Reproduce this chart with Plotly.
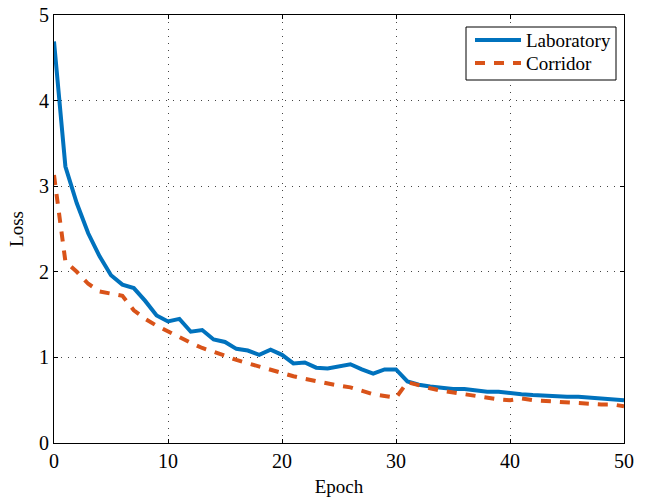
import plotly.graph_objects as go

epochs = list(range(0, 51))
laboratory = [4.69, 3.23, 2.80, 2.45, 2.18, 1.96, 1.85, 1.81, 1.66, 1.49, 1.42,
              1.45, 1.30, 1.32, 1.21, 1.18, 1.10, 1.08, 1.03, 1.09, 1.03,
              0.93, 0.94, 0.88, 0.87, 0.90, 0.92, 0.86, 0.81, 0.86, 0.86,
              0.72, 0.68, 0.66, 0.64, 0.63, 0.63, 0.61, 0.60, 0.60, 0.58,
              0.57, 0.56, 0.55, 0.54, 0.54, 0.54, 0.53, 0.53, 0.51, 0.50]
corridor = [3.13, 2.12, 2.00, 1.86, 1.77, 1.75, 1.72, 1.55, 1.45, 1.37, 1.30,
            1.23, 1.17, 1.11, 1.07, 1.02, 0.97, 0.93, 0.89, 0.85, 0.81,
            0.78, 0.75, 0.72, 0.69, 0.67, 0.65, 0.61, 0.57, 0.55, 0.53,
            0.71, 0.67, 0.64, 0.61, 0.59, 0.57, 0.54, 0.52, 0.51, 0.50,
            0.52, 0.50, 0.49, 0.48, 0.47, 0.47, 0.46, 0.45, 0.45, 0.43]
series_names = ["Laboratory", "Corridor"]
series_colors = ["#0072BD", "#D95319"]
series_dash = ["solid", "10px,9px"]

FONT = "Liberation Serif"
W, H = 646, 497
# plot area in window pixels: left 54, right 624, top 15, bottom 443
ML, MT = 54, 15
MR, MB = W - 624, H - 443
PW, PH = W - ML - MR, H - MT - MB


def px2paper(x, y):
    return (x - ML) / PW, (H - MB - y) / PH


fig = go.Figure()
for name, vals, col, dsh in zip(series_names, [laboratory, corridor], series_colors, series_dash):
    fig.add_trace(go.Scatter(x=epochs, y=vals, mode="lines", name=name, showlegend=False,
                             line=dict(color=col, width=4, dash=dsh)))

axis_common = dict(showline=True, linecolor="black", linewidth=1, mirror="ticks",
                   ticks="inside", ticklen=4, tickcolor="black", automargin=False,
                   ticklabeloverflow="allow",
                   showgrid=True, gridcolor="#444444", gridwidth=1, griddash="1px,6px",
                   zeroline=False, tickfont=dict(family=FONT, size=20, color="black"))

fig.update_xaxes(range=[0, 50], tickvals=[0, 10, 20, 30, 40, 50],
                 title=dict(text="Epoch", font=dict(family=FONT, size=19, color="black"), standoff=9),
                 **axis_common)
fig.update_yaxes(range=[0, 5], tickvals=[0, 1, 2, 3, 4, 5],
                 title=dict(text="Loss", font=dict(family=FONT, size=19, color="black"), standoff=10),
                 **axis_common)

# Legend drawn manually (box, samples, labels) to match the reference layout
shapes = []
annotations = []
x0, y0 = px2paper(466, 27)
x1, y1 = px2paper(616, 80)
shapes.append(dict(type="rect", xref="paper", yref="paper", x0=x0, y0=y1, x1=x1, y1=y0,
                   line=dict(color="black", width=1), fillcolor="white", layer="above"))
for i, (name, col, dsh) in enumerate(zip(series_names, series_colors, series_dash)):
    yy = 40 + 23 * i
    lx0, ly = px2paper(475, yy)
    lx1, _ = px2paper(521, yy)
    shapes.append(dict(type="line", xref="paper", yref="paper", x0=lx0, x1=lx1, y0=ly, y1=ly,
                       line=dict(color=col, width=4, dash=dsh), layer="above"))
    tx, _ = px2paper(524, yy)
    annotations.append(dict(xref="paper", yref="paper", x=tx, y=ly, xanchor="left", yanchor="middle",
                            text=name, showarrow=False,
                            font=dict(family=FONT, size=19, color="black")))

fig.update_layout(
    width=W, height=H,
    margin=dict(l=ML, r=MR, t=MT, b=MB),
    plot_bgcolor="white", paper_bgcolor="white",
    font=dict(family=FONT, color="black"),
    shapes=shapes, annotations=annotations,
    showlegend=False,
)

fig.write_html("out.html", config={"displayModeBar": False},
               post_script="document.body.style.margin='0px';")
